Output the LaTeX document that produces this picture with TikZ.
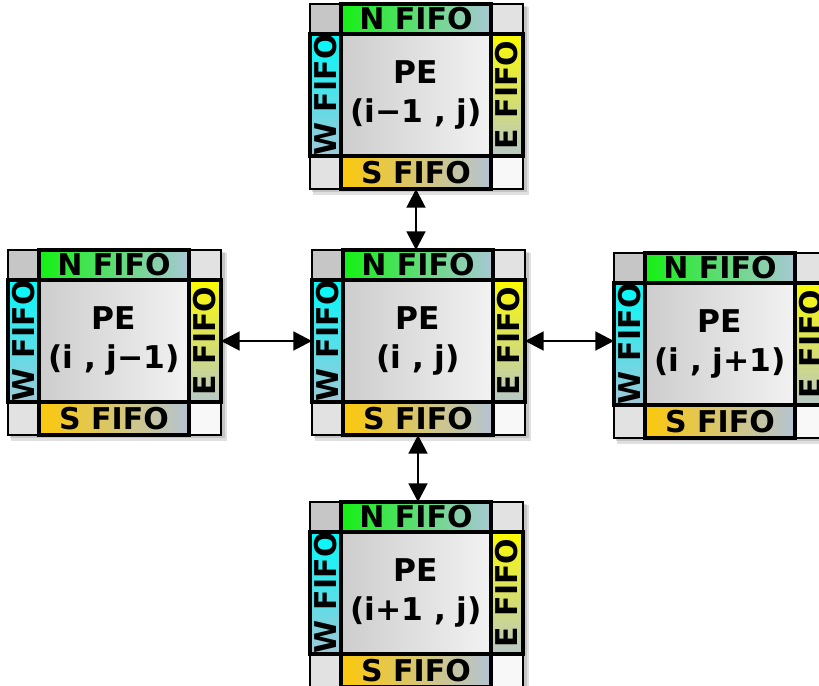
\documentclass[tikz,border=0pt]{standalone}
\usepackage{fontspec}
\setmainfont{DejaVu Sans}
\usetikzlibrary{arrows.meta}
\definecolor{cornerA}{RGB}{198,198,198}
\definecolor{cornerB}{RGB}{226,226,226}
\definecolor{cornerC}{RGB}{248,248,248}
\definecolor{nstart}{RGB}{20,240,20}
\definecolor{nend}{RGB}{168,200,212}
\definecolor{sstart}{RGB}{252,200,10}
\definecolor{send}{RGB}{180,196,212}
\definecolor{wstart}{RGB}{0,250,250}
\definecolor{wend}{RGB}{160,200,216}
\definecolor{estart}{RGB}{250,250,0}
\definecolor{eend}{RGB}{184,200,200}
\definecolor{pedark}{RGB}{205,205,205}
\definecolor{pelight}{RGB}{242,242,242}
\tikzset{
  cell/.style={rectangle, inner sep=0pt, outer sep=0pt, anchor=north west},
  cornerbox/.style={cell, draw=black, line width=1.2pt},
  fifo/.style={cell, draw=black, line width=3pt, font=\fontsize{22.5}{26}\selectfont\bfseries},
  pebox/.style={cell, draw=black, line width=3pt, left color=pedark, right color=pelight,
    align=center, font=\fontsize{23.5}{29}\selectfont\bfseries},
  biarrow/.style={line width=2.2pt, {Triangle[length=14pt,width=14pt]}-{Triangle[length=14pt,width=14pt]}},
}
\newcommand\peblock[5]{%
  \begin{scope}[shift={(#2,#3)}]
    \fill[black, opacity=0.12] (3,3) rectangle (219,191);
    \fill[black, opacity=0.12] (2,2) rectangle (217,188);
    \node[cornerbox, fill=cornerA, minimum width=23.25pt, minimum height=22.5pt] (#1-tl) at (0,0) {};
    \node[cornerbox, fill=cornerB, minimum width=24pt, minimum height=22.5pt] (#1-tr) at (181,0) {};
    \node[cornerbox, fill=cornerB, minimum width=23.25pt, minimum height=24.75pt] (#1-bl) at (0,152) {};
    \node[cornerbox, fill=cornerC, minimum width=24pt, minimum height=24.75pt] (#1-br) at (181,152) {};
    \node[fifo, left color=nstart, right color=nend, minimum width=112.5pt, minimum height=22.5pt] (#1-n) at (31,0) {N FIFO};
    \node[fifo, left color=sstart, right color=send, minimum width=112.5pt, minimum height=24.75pt] (#1-s) at (31,152) {S FIFO};
    \node[fifo, top color=wstart, bottom color=wend, minimum width=23.25pt, minimum height=91.5pt] (#1-w) at (0,30) {\rotatebox{90}{W FIFO}};
    \node[fifo, top color=estart, bottom color=eend, minimum width=24pt, minimum height=91.5pt] (#1-e) at (181,30) {\rotatebox{90}{E FIFO}};
    \node[pebox, minimum width=112.5pt, minimum height=91.5pt] (#1-pe) at (31,30) {#4\\#5};
  \end{scope}}
\begin{document}
\begin{tikzpicture}[x=0.75pt, y=-0.75pt]
  \useasboundingbox (0,0) rectangle (819,686);
  \clip (0,0) rectangle (819,686);
  \fill[white] (0,0) rectangle (819,686);
  \peblock{top}{310}{4}{PE}{(i−1 , j)}
  \peblock{left}{8}{250}{PE}{(i , j−1)}
  \peblock{ctr}{312}{250}{PE}{(i , j)}
  \peblock{right}{614}{253}{PE}{(i , j+1)}
  \peblock{bot}{310}{502}{PE}{(i+1 , j)}
  \draw[biarrow] (top-s.south) -- (top-s.south |- ctr-n.north);
  \draw[biarrow] (ctr-s.south) -- (ctr-s.south |- bot-n.north);
  \draw[biarrow] (left-e.east) -- (left-e.east -| ctr-w.west);
  \draw[biarrow] (ctr-e.east) -- (ctr-e.east -| right-w.west);
\end{tikzpicture}
\end{document}
